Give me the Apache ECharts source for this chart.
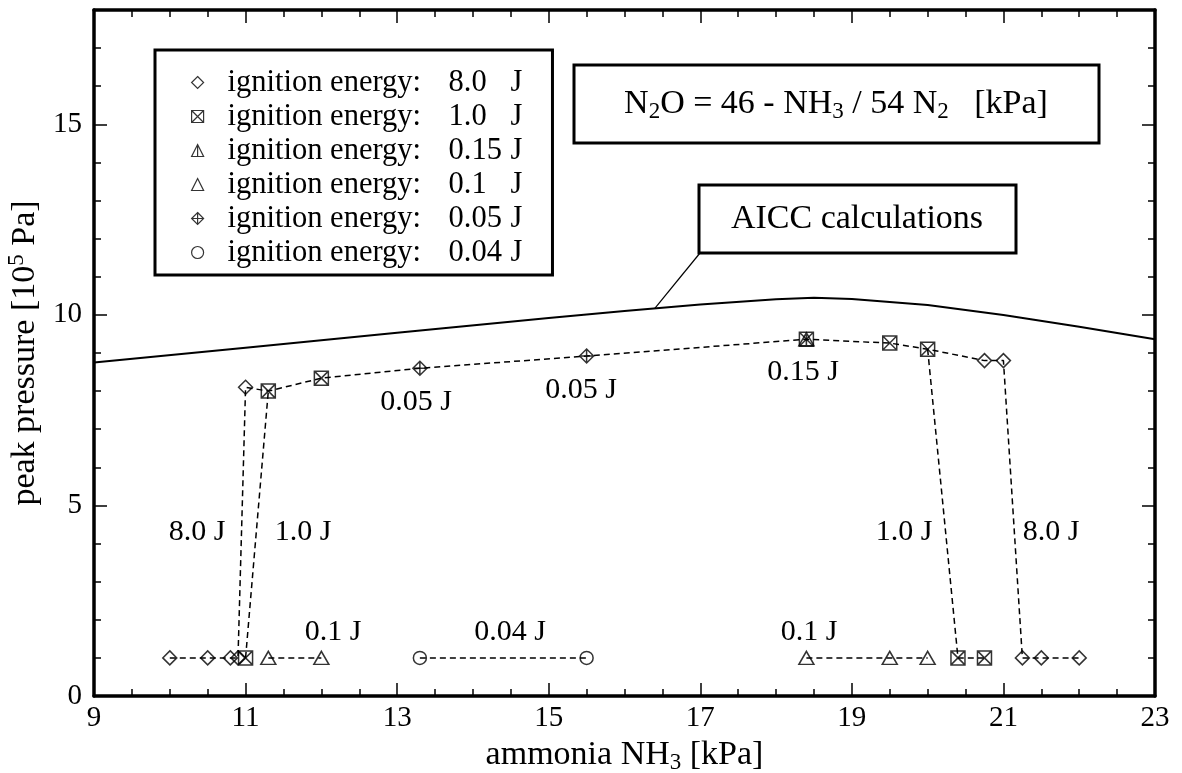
<!DOCTYPE html>
<html>
<head>
<meta charset="utf-8">
<script src="https://cdn.jsdelivr.net/npm/echarts@6/dist/echarts.min.js"></script>
<style>
  html, body { margin: 0; padding: 0; background: #fff; }
  #chart { width: 1182px; height: 773px; }
</style>
</head>
<body>
<div id="chart"></div>
<script>
// AICC calculations (solid curve)
const aiccX = [9, 11, 13, 15, 16, 17, 18, 18.5, 19, 20, 21, 22, 23];
const aiccY = [8.75, 9.14, 9.53, 9.92, 10.1, 10.27, 10.41, 10.45, 10.42, 10.26, 10.0, 9.69, 9.36];

// measured peak pressures [NH3 kPa, 10^5 Pa] per ignition energy
const energies = ['8.0', '1.0', '0.15', '0.1', '0.05', '0.04'];
const pts80 = [[10, 1], [10.5, 1], [10.8, 1], [10.9, 1], [11.0, 8.1], [20.75, 8.8], [21.0, 8.8], [21.25, 1], [21.5, 1], [22, 1]];
const pts10 = [[11.0, 1], [11.3, 8.0], [12.0, 8.34], [18.4, 9.36], [19.5, 9.26], [20.0, 9.1], [20.4, 1], [20.75, 1]];
const pts015 = [[18.4, 9.36]];
const pts01 = [[11.3, 1], [12.0, 1], [18.4, 1], [19.5, 1], [20.0, 1]];
const pts005 = [[13.3, 8.6], [15.5, 8.92]];
const pts004 = [[13.3, 1], [15.5, 1]];

// dashed connection lines
const dashMain = [[10, 1], [10.5, 1], [10.8, 1], [10.9, 1], [11.0, 8.1], [11.3, 8.0], [12.0, 8.34], [13.3, 8.6], [15.5, 8.92],
  [18.4, 9.36], [19.5, 9.26], [20.0, 9.1], [20.75, 8.8], [21.0, 8.8], [21.25, 1], [21.5, 1], [22, 1]];
const dash10Left = [[11.0, 1], [11.3, 8.0]];
const dash10Right = [[20.0, 9.1], [20.4, 1], [20.75, 1]];
const dash01Left = [[11.3, 1], [12.0, 1]];
const dash004 = [[13.3, 1], [15.5, 1]];
const dash01Right = [[18.4, 1], [19.5, 1], [20.0, 1]];

// text labels next to the data
const noteTexts = ['8.0 J', '1.0 J', '0.1 J', '0.04 J', '0.05 J', '0.05 J', '0.15 J', '0.1 J', '1.0 J', '8.0 J'];

const FONT = '"Liberation Serif", "Times New Roman", serif';

const symbols = {
  '8.0': 'path://M5,0L10,5L5,10L0,5Z',
  '1.0': 'path://M0,0H10V10H0Z M0,0L10,10 M10,0L0,10',
  '0.15': 'path://M5,0L10,10H0Z M5,0V10',
  '0.1': 'path://M5,0L10,10H0Z',
  '0.05': 'path://M5,0L10,5L5,10L0,5Z M5,0V10 M0,5H10',
  '0.04': 'circle'
};
const symbolSizes = {
  '8.0': 14, '1.0': 14, '0.15': [15, 13], '0.1': [15, 13], '0.05': 14, '0.04': 13
};
const pointSets = [pts80, pts10, pts015, pts01, pts005, pts004];

const chart = echarts.init(document.getElementById('chart'), null, { renderer: 'canvas' });

const markStyle = { color: 'transparent', borderColor: '#000', borderWidth: 1.5 };

const dashSeries = [dashMain, dash10Left, dash10Right, dash01Left, dash004, dash01Right].map((d, i) => ({
  name: 'dash' + i,
  type: 'line',
  data: d,
  symbol: 'none',
  silent: true,
  z: 2,
  lineStyle: { color: '#000', width: 1.5, type: [6, 4] }
}));

const markerSeries = energies.map((e, i) => ({
  name: e,
  type: 'scatter',
  data: pointSets[i],
  symbol: symbols[e],
  symbolSize: symbolSizes[e],
  z: 3,
  itemStyle: markStyle,
  emphasis: { disabled: true }
}));

const tickText = { color: '#000', fontFamily: FONT, fontSize: 29 };
const lineStyle = { color: '#000', width: 3.5 };

// x axes: bottom (labels) and top (mirror ticks)
const xAxes = ['bottom', 'top'].map(pos => ({
  type: 'value',
  position: pos,
  min: 9, max: 23, interval: 2,
  axisLine: { show: true, onZero: false, lineStyle },
  axisTick: { show: true, inside: true, length: 13, lineStyle: { color: '#000', width: 1.5 } },
  minorTick: { show: true, splitNumber: 4, length: 7, lineStyle: { color: '#000', width: 1.5 } },
  axisLabel: pos === 'bottom' ? Object.assign({ margin: 8 }, tickText) : { show: false },
  splitLine: { show: false },
  name: pos === 'bottom' ? '{t|ammonia NH}{s|3}{t| [kPa]}' : '',
  nameLocation: 'middle',
  nameGap: 38,
  nameTextStyle: {
    rich: {
      t: { fontFamily: FONT, fontSize: 34, color: '#000' },
      s: { fontFamily: FONT, fontSize: 23, color: '#000', padding: [16, 0, 0, 0] }
    }
  }
}));

// y axes: major (interval 5) and minor (interval 1), on both sides
const yAxes = [];
['left', 'right'].forEach(pos => {
  yAxes.push({
    type: 'value', position: pos, min: 0, max: 18, interval: 5,
    axisLine: { show: true, onZero: false, lineStyle },
    axisTick: { show: true, inside: true, length: 13, lineStyle: { color: '#000', width: 1.5 } },
    axisLabel: pos === 'left' ? Object.assign({ margin: 12, showMaxLabel: false }, tickText) : { show: false },
    splitLine: { show: false },
    name: pos === 'left' ? '{t|peak pressure [10}{p|5}{t| Pa]}' : '',
    nameLocation: 'middle',
    nameGap: 46,
    nameTextStyle: {
      rich: {
        t: { fontFamily: FONT, fontSize: 34, color: '#000' },
        p: { fontFamily: FONT, fontSize: 23, color: '#000', padding: [0, 0, 16, 0] }
      }
    }
  });
  yAxes.push({
    type: 'value', position: pos, min: 0, max: 18, interval: 1,
    axisLine: { show: false },
    axisTick: { show: true, inside: true, length: 7, lineStyle: { color: '#000', width: 1.5 } },
    axisLabel: { show: false },
    splitLine: { show: false }
  });
});

// label positions in pixels (annotation layer)
const notePos = [[197, 532], [303, 532], [333, 632], [510, 632], [416, 402], [581, 390], [803, 372], [809, 632], [904, 532], [1051, 532]];
const noteGraphics = noteTexts.map((t, i) => ({
  type: 'text',
  x: notePos[i][0], y: notePos[i][1],
  style: { text: t, font: '30px ' + FONT, fill: '#000', align: 'center', verticalAlign: 'middle' },
  z: 10
}));

const boxGraphics = [
  {
    type: 'rect', id: 'n2oBox',
    shape: { x: 574, y: 65, width: 525, height: 78 },
    style: { fill: '#fff', stroke: '#000', lineWidth: 3 }, z: 10
  },
  {
    type: 'text', id: 'n2oText', x: 836, y: 104,
    style: {
      text: '{t|N}{s|2}{t|O = 46 - NH}{s|3}{t| / 54 N}{s|2}{t|   [kPa]}',
      align: 'center', verticalAlign: 'middle',
      rich: {
        t: { fontFamily: FONT, fontSize: 34, fill: '#000' },
        s: { fontFamily: FONT, fontSize: 23, fill: '#000', padding: [16, 0, 0, 0] }
      }
    }, z: 11
  },
  {
    type: 'rect', id: 'aiccBox',
    shape: { x: 699, y: 185, width: 317, height: 68 },
    style: { fill: '#fff', stroke: '#000', lineWidth: 3 }, z: 10
  },
  {
    type: 'text', id: 'aiccText', x: 857, y: 219,
    style: { text: 'AICC calculations', font: '34px ' + FONT, fill: '#000', align: 'center', verticalAlign: 'middle' },
    z: 11
  }
];

const option = {
  animation: false,
  backgroundColor: '#fff',
  grid: { left: 94, right: 27, top: 10, bottom: 77, containLabel: false, outerBoundsMode: 'none' },
  xAxis: xAxes,
  yAxis: yAxes,
  legend: {
    orient: 'vertical',
    left: 155, top: 50,
    padding: [17, 30, 7, 36],
    itemGap: 3,
    itemWidth: 12, itemHeight: 12,
    selectedMode: false,
    borderColor: '#000', borderWidth: 3,
    backgroundColor: '#fff',
    data: energies.map(e => ({ name: e, icon: symbols[e] })),
    itemStyle: { color: 'transparent', borderColor: '#000', borderWidth: 1.2 },
    formatter: name => `{a|ignition energy:}{b|${name}}{c|J}`,
    textStyle: {
      color: '#000',
      rich: {
        a: { fontFamily: FONT, fontSize: 30.5, lineHeight: 32, width: 221, padding: [0, 0, 0, 19], color: '#000' },
        b: { fontFamily: FONT, fontSize: 30.5, lineHeight: 32, width: 62, color: '#000' },
        c: { fontFamily: FONT, fontSize: 30.5, lineHeight: 32, color: '#000' }
      }
    }
  },
  graphic: noteGraphics.concat(boxGraphics),
  series: [
    {
      name: 'AICC',
      type: 'line',
      data: aiccX.map((x, i) => [x, aiccY[i]]),
      symbol: 'none',
      silent: true,
      z: 1,
      lineStyle: { color: '#000', width: 2 }
    }
  ].concat(dashSeries, markerSeries)
};

chart.setOption(option);

// leader line from the AICC box to the curve at NH3 = 16.4 kPa
const lx = 16.4;
let ly = aiccY[0];
for (let i = 0; i < aiccX.length - 1; i++) {
  if (lx >= aiccX[i] && lx <= aiccX[i + 1]) {
    ly = aiccY[i] + (aiccY[i + 1] - aiccY[i]) * (lx - aiccX[i]) / (aiccX[i + 1] - aiccX[i]);
  }
}
const p = chart.convertToPixel({ xAxisIndex: 0, yAxisIndex: 0 }, [lx, ly]);
chart.setOption({
  graphic: [{
    type: 'line', id: 'leader',
    shape: { x1: 700, y1: 253, x2: p[0], y2: p[1] },
    style: { stroke: '#000', lineWidth: 1.2 }, z: 9
  }]
});
</script>
</body>
</html>
